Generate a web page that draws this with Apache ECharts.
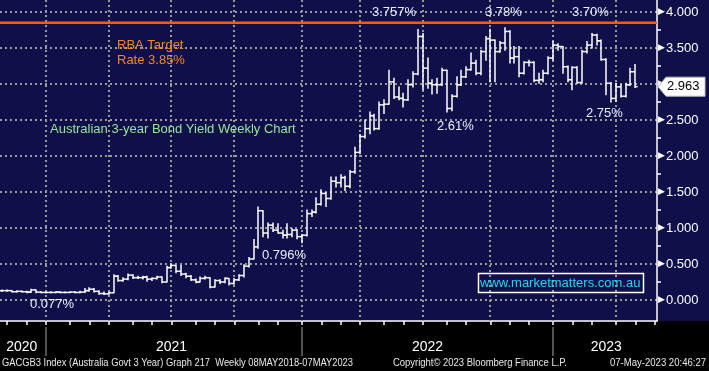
<!DOCTYPE html>
<html><head><meta charset="utf-8">
<script src="https://cdn.jsdelivr.net/npm/echarts@6/dist/echarts.min.js"></script>
<style>
html,body{margin:0;padding:0;background:#000;}
#c{width:709px;height:371px;background:linear-gradient(to bottom,#100f4a 0px,#100f4a 321px,#000 321px,#000 371px);}
</style></head><body><div id="c"></div>
<script>
// ---- data (weekly bars, first bar week ending 2020-10-30) ----
const firstWeek = [2020, 9, 30];   // y, m(0-based), d
const axisWeeks = 136;             // category slots on the axis
const open = [
0.13,0.13,0.13,0.115,0.12,0.115,0.11,0.14,0.11,0.105,
0.105,0.105,0.11,0.105,0.105,0.11,0.105,0.11,0.13,0.15,
0.12,0.09,0.085,0.10,0.33,0.27,0.29,0.345,0.31,0.31,
0.32,0.29,0.30,0.32,0.25,0.45,0.48,0.40,0.36,0.33,
0.28,0.25,0.30,0.31,0.18,0.27,0.25,0.30,0.23,0.28,
0.34,0.47,0.57,0.74,1.24,0.93,1.04,0.97,0.93,0.90,
0.91,0.97,0.88,0.90,1.20,1.22,1.33,1.48,1.41,1.65,
1.63,1.70,1.58,1.78,2.05,2.27,2.38,2.56,2.38,2.71,
2.72,3.03,2.82,2.80,2.78,2.99,3.14,3.66,3.22,3.01,
2.99,2.99,3.19,2.66,2.83,2.99,3.10,3.20,3.29,3.15,
3.45,3.63,3.61,3.45,3.57,3.73,3.36,3.38,3.15,3.30,
3.30,3.05,3.06,3.15,3.36,3.54,3.52,3.24,3.06,3.23,
3.02,3.45,3.54,3.68,3.60,3.34,3.01,2.80,2.96,2.83,
2.99,3.17];
const high = [
0.14,0.14,0.13,0.13,0.125,0.12,0.15,0.14,0.115,0.11,
0.115,0.115,0.115,0.11,0.115,0.115,0.12,0.16,0.17,0.16,
0.13,0.11,0.11,0.35,0.34,0.31,0.36,0.35,0.33,0.33,
0.33,0.31,0.33,0.32,0.47,0.50,0.48,0.48,0.37,0.34,
0.29,0.32,0.33,0.31,0.28,0.28,0.31,0.30,0.30,0.35,
0.49,0.59,0.84,1.29,1.24,1.07,1.07,1.06,0.97,1.06,
0.99,0.98,0.91,1.25,1.25,1.42,1.53,1.49,1.71,1.71,
1.74,1.72,1.80,2.12,2.30,2.50,2.61,2.58,2.75,2.78,
3.19,3.08,2.96,2.87,3.06,3.17,3.757,3.70,3.36,3.06,
3.08,3.22,3.19,2.85,3.10,3.19,3.24,3.43,3.33,3.47,
3.66,3.76,3.61,3.59,3.78,3.74,3.52,3.52,3.31,3.33,
3.31,3.15,3.19,3.38,3.59,3.56,3.52,3.25,3.24,3.24,
3.47,3.59,3.70,3.69,3.61,3.35,3.02,3.01,2.99,3.01,
3.22,3.27];
const low = [
0.12,0.12,0.11,0.11,0.11,0.10,0.105,0.10,0.10,0.10,
0.10,0.10,0.10,0.10,0.10,0.10,0.10,0.105,0.12,0.11,
0.08,0.077,0.08,0.10,0.26,0.26,0.28,0.30,0.30,0.29,
0.26,0.27,0.29,0.24,0.25,0.44,0.38,0.34,0.31,0.27,
0.24,0.25,0.29,0.17,0.18,0.23,0.24,0.21,0.22,0.27,
0.32,0.46,0.57,0.72,0.88,0.86,0.95,0.93,0.86,0.86,
0.88,0.85,0.796,0.89,1.16,1.21,1.32,1.30,1.40,1.57,
1.57,1.52,1.56,1.76,2.03,2.25,2.31,2.36,2.37,2.59,
2.72,2.80,2.78,2.68,2.77,2.96,3.13,2.92,2.94,2.86,
2.87,2.98,2.61,2.63,2.82,2.98,3.09,3.19,3.13,3.13,
3.33,3.03,3.03,3.44,3.47,3.29,3.29,3.10,3.14,3.25,
3.03,3.01,3.03,3.14,3.33,3.47,3.15,3.03,2.92,3.01,
3.01,3.43,3.50,3.54,3.33,2.85,2.75,2.76,2.82,2.82,
2.98,2.95];
const close = [
0.13,0.13,0.115,0.12,0.115,0.11,0.14,0.11,0.105,0.105,
0.105,0.11,0.105,0.105,0.11,0.105,0.11,0.13,0.15,0.12,
0.09,0.085,0.10,0.33,0.27,0.29,0.345,0.31,0.31,0.32,
0.29,0.30,0.32,0.25,0.45,0.48,0.40,0.36,0.33,0.28,
0.25,0.30,0.31,0.18,0.27,0.25,0.30,0.23,0.28,0.34,
0.47,0.57,0.74,1.24,0.93,1.04,0.97,0.93,0.90,0.91,
0.97,0.88,0.90,1.20,1.22,1.33,1.48,1.41,1.65,1.63,
1.70,1.58,1.78,2.05,2.27,2.38,2.56,2.38,2.71,2.72,
3.03,2.82,2.80,2.78,2.99,3.14,3.66,3.22,3.01,2.99,
2.99,3.19,2.66,2.83,2.99,3.10,3.20,3.29,3.15,3.45,
3.63,3.61,3.45,3.57,3.73,3.36,3.38,3.15,3.30,3.30,
3.05,3.06,3.15,3.36,3.54,3.52,3.24,3.06,3.23,3.02,
3.45,3.54,3.68,3.60,3.34,3.01,2.80,2.96,2.83,2.99,
3.17,2.963];
const rbaTarget = 3.85;
const yMin = 0, yMax = 4, yStep = 0.5;

// ---- derived categories ----
const DAY = 86400000;
const t0 = Date.UTC(firstWeek[0], firstWeek[1], firstWeek[2]);
const dates = [];
for (let k = 0; k < axisWeeks; k++) dates.push(new Date(t0 + k * 7 * DAY).toISOString().slice(0, 10));
const monthStart = new Set(), quarterStart = [], yearStart = [];
for (let k = 1; k < dates.length; k++) {
  const m = dates[k].slice(5, 7), pm = dates[k - 1].slice(5, 7);
  if (m !== pm) {
    monthStart.add(k);
    if (['01', '04', '07', '10'].includes(m)) quarterStart.push(k);
    if (m === '01') yearStart.push(k);
  }
}
const yearLabelIdx = new Set();
[...new Set(dates.map(d => d.slice(0, 4)))].forEach(y => {
  const idx = dates.map((d, i) => d.startsWith(y) ? i : -1).filter(i => i >= 0);
  yearLabelIdx.add(Math.round((idx[0] + idx[idx.length - 1]) / 2));
});
const ohlc = close.map((c, k) => [k, open[k], high[k], low[k], c]);
const lastClose = close[close.length - 1];

const FONT = 'Arial, "Liberation Sans", sans-serif';
const GRIDC = '#9a9a9a';
const chart = echarts.init(document.getElementById('c'));

function vline(color, width, dash) {
  return function (params, api) {
    const x = Math.round(api.coord([api.value(0), 0])[0]);
    const cs = params.coordSys;
    return { type: 'line', silent: true,
      shape: { x1: x, y1: cs.y, x2: x, y2: cs.y + cs.height },
      style: { stroke: color, lineWidth: width, lineDash: dash } };
  };
}

chart.setOption({
  animation: false,
  grid: [
    { left: 0, right: 52, top: 12, bottom: 71 },
    { left: 0, right: 52, top: 0, bottom: 50 },
    { left: 0, right: 52, top: 327, bottom: 15 }
  ],
  xAxis: [
    { type: 'category', gridIndex: 0, data: dates, boundaryGap: true, show: false },
    { type: 'category', gridIndex: 1, data: dates, boundaryGap: true,
      axisLine: { show: true, lineStyle: { color: '#fff', width: 1.5 } },
      axisTick: { show: true, alignWithLabel: true, interval: (i) => monthStart.has(i), length: 4, lineStyle: { color: '#fff', width: 1.5 } },
      axisLabel: { show: true, interval: (i) => yearLabelIdx.has(i), formatter: (v) => v.slice(0, 4),
        color: '#fff', fontSize: 14, fontFamily: FONT, margin: 19 },
      splitLine: { show: false } },
    { type: 'category', gridIndex: 2, data: dates, boundaryGap: true, show: false }
  ],
  yAxis: [
    { type: 'value', gridIndex: 0, position: 'right', min: yMin, max: yMax, interval: yStep,
      axisLine: { show: false }, axisTick: { show: false },
      minorTick: { show: true, splitNumber: 2, length: 4, lineStyle: { color: '#fff', width: 1.5 } },
      axisLabel: { show: true, margin: 1, color: '#fff', fontSize: 13, fontFamily: FONT,
        formatter: (v) => '{a|▶}' + v.toFixed(3),
        rich: { a: { fontSize: 9, color: '#fff', fontFamily: 'DejaVu Sans', padding: [0, 1, 0, 0] } } },
      splitLine: { show: true, lineStyle: { color: GRIDC, width: 2, type: [2, 3] } } },
    { type: 'value', gridIndex: 1, position: 'right', min: 0, max: 1,
      axisLine: { show: true, lineStyle: { color: '#fff', width: 1.5 } },
      axisTick: { show: false }, axisLabel: { show: false }, splitLine: { show: false } },
    { type: 'value', gridIndex: 2, min: 0, max: 1, show: false }
  ],
  series: [
    { type: 'custom', name: 'quarters', xAxisIndex: 1, yAxisIndex: 1, z: 1, silent: true,
      data: quarterStart.map(k => [k, 0]), encode: { x: 0, y: 1 },
      renderItem: vline(GRIDC, 2, [2, 3]) },
    { type: 'custom', name: 'years', xAxisIndex: 2, yAxisIndex: 2, z: 1, silent: true,
      data: yearStart.map(k => [k, 0]), encode: { x: 0, y: 1 },
      renderItem: vline('#6e6e6e', 1.5, null) },
    { type: 'custom', name: 'RBA target', xAxisIndex: 0, yAxisIndex: 0, z: 3, silent: true,
      data: [[0, rbaTarget]], encode: { x: 0, y: 1 },
      renderItem: function (params, api) {
        const y = api.coord([0, api.value(1)])[1];
        const cs = params.coordSys;
        return { type: 'line', shape: { x1: cs.x, y1: y, x2: cs.x + cs.width, y2: y },
          style: { stroke: '#ff5a0a', lineWidth: 2.5 } };
      } },
    { type: 'custom', name: 'GACGB3', xAxisIndex: 0, yAxisIndex: 0, z: 5, silent: true, clip: false,
      data: ohlc, encode: { x: 0, y: [1, 2, 3, 4] },
      renderItem: function (params, api) {
        const k = api.value(0);
        const x = Math.round(api.coord([k, 0])[0]);
        const yo = api.coord([k, api.value(1)])[1];
        const yh = api.coord([k, api.value(2)])[1];
        const yl = api.coord([k, api.value(3)])[1];
        const yc = api.coord([k, api.value(4)])[1];
        const st = { stroke: '#ffffff', lineWidth: 1.5 };
        return { type: 'group', children: [
          { type: 'line', shape: { x1: x, y1: yh - 0.5, x2: x, y2: yl + 0.5 }, style: st },
          { type: 'line', shape: { x1: x - 2.6, y1: yo, x2: x, y2: yo }, style: st },
          { type: 'line', shape: { x1: x, y1: yc, x2: x + 2.6, y2: yc }, style: st }
        ] };
      } }
  ]
});

// ---- text / annotation graphics ----
const ANN = '#e6eeff';
function txt(text, x, y, color, size, extra) {
  return Object.assign({ type: 'text', x: x, y: y, z: 20, silent: true,
    style: { text: text, x: 0, y: 0, fill: color, font: size + 'px ' + FONT,
      align: 'left', verticalAlign: 'middle', textAlign: 'left', textVerticalAlign: 'middle' } }, extra || {});
}
const ctx = document.createElement('canvas').getContext('2d');
function fitX(text, size, width) {
  ctx.font = size + 'px ' + FONT;
  return width / ctx.measureText(text).width;
}
const f1 = 'GACGB3 Index (Australia Govt 3 Year) Graph 217  Weekly 08MAY2018-07MAY2023';
const f2 = 'Copyright\u00a9 2023 Bloomberg Finance L.P.';
const f3 = '07-May-2023 20:46:27';
const tagY = chart.convertToPixel({ yAxisIndex: 0 }, lastClose);
const axisX = 709 - 52;

chart.setOption({
  graphic: [
    txt('3.757%', 372, 12.5, ANN, 13),
    txt('3.78%', 485, 12.5, ANN, 13),
    txt('3.70%', 572, 12.5, ANN, 13),
    txt('2.61%', 437, 126, ANN, 13),
    txt('2.75%', 586, 113, ANN, 13),
    txt('0.796%', 262, 255, ANN, 13),
    txt('0.077%', 30, 304, ANN, 13),
    txt('RBA Target', 117, 45, '#f28a1e', 13),
    txt('Rate 3.85%', 117, 60.5, '#f28a1e', 13),
    txt('Australian 3-year Bond Yield Weekly Chart', 50, 129, '#96e896', 13),
    { type: 'rect', z: 20, silent: true, shape: { x: 478.5, y: 273.5, width: 165, height: 19 },
      style: { fill: 'none', stroke: '#ffffff', lineWidth: 1.5 } },
    txt('www.marketmatters.com.au', 480, 283, '#22d8ea', 13),
    txt(f1, 2, 363, '#e8e8e8', 10, { scaleX: fitX(f1, 10, 351) }),
    txt(f2, 393, 363, '#e8e8e8', 10, { scaleX: fitX(f2, 10, 174) }),
    txt(f3, 610, 363, '#e8e8e8', 10, { scaleX: fitX(f3, 10, 96) }),
    { type: 'polygon', z: 25, silent: true,
      shape: { points: [[axisX + 1, tagY], [axisX + 9, tagY - 9.5], [705, tagY - 9.5], [705, tagY + 9.5], [axisX + 9, tagY + 9.5]] },
      style: { fill: '#ffffff', stroke: '#bdbdbd', lineWidth: 1 } },
    txt(lastClose.toFixed(3), 667, tagY, '#000000', 13, { z: 26 })
  ]
});
</script></body></html>
